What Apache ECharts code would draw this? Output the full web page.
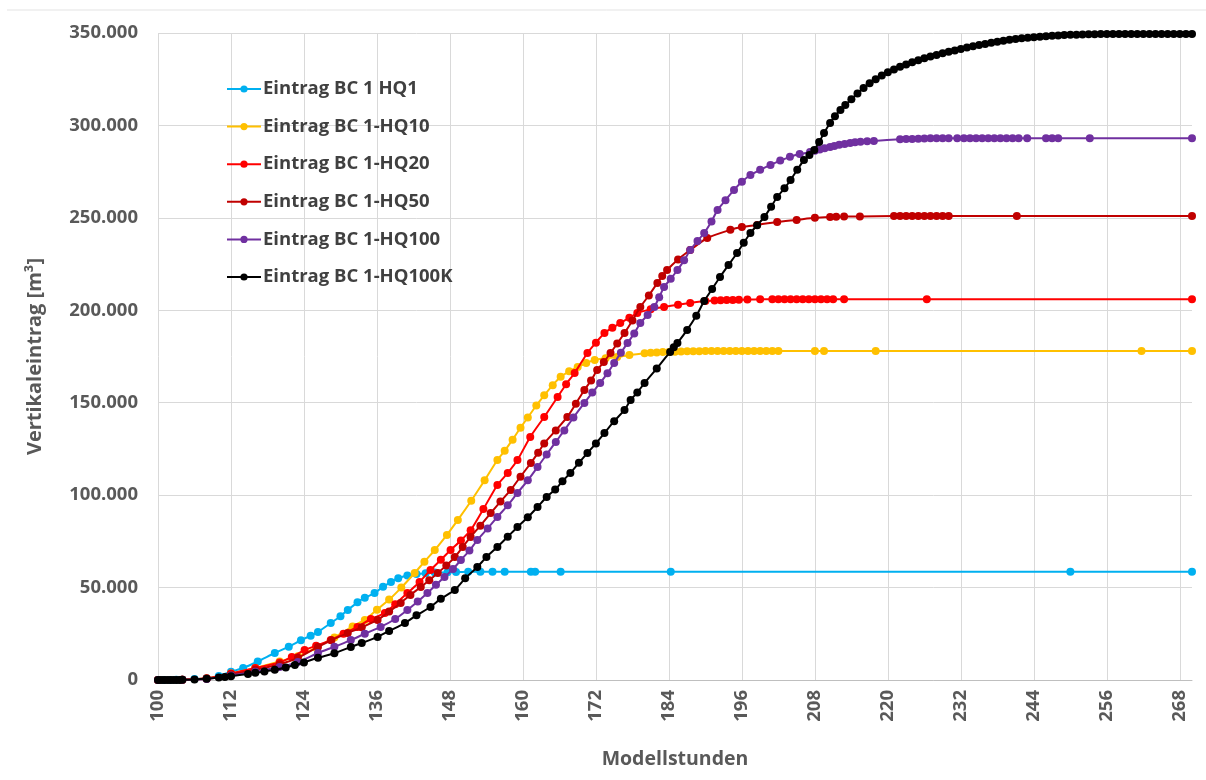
<!DOCTYPE html>
<html>
<head>
<meta charset="utf-8">
<script src="https://cdn.jsdelivr.net/npm/echarts@6/dist/echarts.min.js"></script>
<style>
html,body{margin:0;padding:0;background:#fff;}
#chart{width:1206px;height:780px;}
</style>
</head>
<body>
<div id="chart"></div>
<script>
// ---- Data: [Modellstunden, Vertikaleintrag m³] ----
const seriesNames = ["Eintrag BC 1 HQ1","Eintrag BC 1-HQ10","Eintrag BC 1-HQ20","Eintrag BC 1-HQ50","Eintrag BC 1-HQ100","Eintrag BC 1-HQ100K"];
const seriesColors = ["#00B0F0","#FFC000","#FF0000","#C00000","#7030A0","#000000"];
const xTicks = [100,112,124,136,148,160,172,184,196,208,220,232,244,256,268];

const hq1 = [[100,0],[101,0],[102,50],[103,100],[104,200],[106,500],[108,1000],[110,2200],[112,4500],[114,6500],[116.4,10000],[119.2,14600],[121.5,18000],[123.5,21500],[125.1,24000],[126.3,26000],[128.4,30800],[130,34500],[131.2,37900],[132.8,42000],[134,44500],[135.6,47000],[137,50500],[138.3,53000],[139.5,55000],[141,56500],[142.5,57300],[144,57800],[145.5,58100],[147.6,58300],[149,58400],[151,58500],[153,58500],[155,58500],[157,58500],[161.3,58500],[162,58500],[166.2,58500],[184.3,58500],[250,58500],[270,58500]];

const hq10 = [[100,0],[104,150],[108,800],[112,3500],[116,6500],[120,10000],[123,12800],[126,17500],[129,23000],[132,29000],[134,32500],[136,38000],[138,43500],[140,50000],[142.2,57900],[143.8,64000],[145.5,70300],[147.5,78500],[149.3,86600],[151.5,97000],[153.7,108000],[155.8,119000],[157,124000],[158.3,130000],[159.6,136500],[160.8,142000],[162.2,148500],[163.5,154000],[164.9,159500],[166.2,164000],[167.6,167000],[169,169300],[170.4,171500],[171.8,173100],[173.6,174000],[175.5,174700],[177.5,175800],[180,176800],[181,177000],[182,177200],[183,177400],[184,177500],[185,177600],[186,177700],[187,177800],[188,177900],[189,177900],[190,178000],[191,178000],[192,178000],[193,178000],[194,178000],[195,178000],[196,178000],[197,178000],[198,178000],[199,178000],[200,178000],[201,178000],[202,178000],[208,178000],[209.5,178000],[218,178000],[261.7,178000],[270,178000]];

const hq20 = [[100,0],[104,200],[108,900],[112,3500],[116,6500],[120,9500],[122,12500],[124.1,16200],[126,18500],[128.4,21600],[130.5,25000],[132.8,28700],[135,33000],[137.3,36200],[139,41000],[141,47000],[143,53000],[144.8,59500],[146.5,65000],[148.1,70300],[149.8,75500],[151.4,81000],[153.5,92500],[155.8,105500],[157.5,112000],[159.1,119000],[161.2,131500],[163.5,142300],[165.7,153100],[167.1,160000],[168.5,166100],[170.6,176900],[172,182500],[173.4,187700],[174.7,190500],[176,193100],[177.5,196000],[178.8,198500],[181,200500],[183.2,201800],[185.5,203000],[187.5,204000],[190,205000],[191.5,205300],[192.5,205400],[193.5,205500],[194.5,205600],[195.5,205700],[196.9,205800],[199,206000],[201,206000],[202,206000],[203,206000],[204,206000],[205,206000],[206,206000],[207,206000],[208,206000],[209,206000],[210,206000],[211,206000],[212.8,206000],[226.4,206000],[270,206000]];

const hq50 = [[100,0],[104,150],[108,700],[112,3000],[116,5500],[120,8500],[123,12000],[126.3,17900],[128.5,21500],[131.2,25400],[133.5,28500],[136.1,32500],[138,37000],[139.9,41700],[141.5,46000],[143.2,50300],[144.6,54000],[146,57900],[147.4,62000],[148.8,66500],[150.1,72000],[151.4,77400],[153,83500],[154.7,90300],[156.3,96500],[158,102800],[159.6,110000],[161.3,117400],[162.5,123000],[163.5,128000],[165.4,135000],[167.3,142300],[168.7,149500],[170.1,156900],[171.2,162000],[172.2,167700],[173.3,172000],[174.4,176900],[175.5,182000],[176.7,187700],[178,194500],[179.3,201800],[180.7,208000],[182.1,214800],[182.9,218500],[183.7,221800],[185.5,227500],[187.5,232600],[190.3,239100],[194.1,243500],[196,245000],[198.5,246200],[201.8,247800],[205,248900],[208,250000],[210.5,250500],[211.5,250600],[212.8,250700],[215.4,250800],[221,251000],[222,251000],[223,251000],[224,251000],[225,251000],[226,251000],[227,251000],[228,251000],[229,251000],[230,251000],[241.2,251000],[270,251000]];

const hq100 = [[100,0],[104,100],[108,600],[112,2500],[116,4500],[120,7000],[123,9700],[126.3,14600],[129,18000],[131.7,21600],[134,25000],[136.6,28700],[139,33000],[141,37900],[142.7,42500],[144.3,47100],[145.7,51500],[147.1,55700],[148.5,60000],[149.8,64900],[151.2,70000],[152.5,75700],[154.2,82000],[155.8,88200],[157.5,94500],[159.1,101200],[160.8,108000],[162.4,115200],[163.9,122000],[165.4,128800],[166.8,135000],[168.3,142000],[170.1,149900],[171.4,155500],[172.7,160700],[173.9,166000],[175,171500],[176.1,177000],[177.2,182300],[178.3,187500],[179.3,193100],[180.5,197500],[181.6,201800],[182.4,207000],[183.2,212600],[184.3,217000],[185.4,221800],[186.5,227000],[187.5,232600],[188.7,237500],[189.8,241800],[191,248000],[192,254300],[193.3,259500],[194.7,265100],[196,269500],[197.4,273200],[199,276000],[200.7,278600],[202.3,281000],[203.9,283000],[205.5,284500],[207.2,285600],[208,286300],[208.8,287000],[209.6,287700],[210.5,288300],[211.2,288900],[212,289500],[212.9,290000],[213.8,290500],[214.6,290900],[215.5,291200],[216.6,291400],[217.7,291600],[222,292500],[223,292600],[224,292700],[225,292800],[226,292900],[227,293000],[228,293000],[229,293000],[230,293000],[231.4,293000],[232.5,293000],[233.5,293000],[234.5,293000],[235.5,293000],[236.5,293000],[237.5,293000],[238.5,293000],[239.5,293000],[240.5,293000],[241.5,293000],[242.9,293000],[246,293000],[247,293000],[248,293000],[253.2,293000],[270,293000]];

const hq100k = [[100,0],[100.5,0],[101,0],[101.5,0],[102,0],[102.5,0],[103,0],[103.5,50],[104,100],[106,300],[108,700],[110,1300],[111,1600],[112,2000],[114.8,3300],[116,3900],[117.5,4600],[119.2,5500],[121,6800],[122.5,8100],[124,9500],[126.3,12000],[129,14500],[131.7,17900],[133.5,20000],[136.1,23300],[138,26500],[140.6,30800],[142.5,35000],[144.8,39500],[146.5,44000],[148.8,48700],[150.5,55000],[152.5,61100],[154,66500],[155.8,72000],[157.5,77500],[159.1,82800],[160.8,88000],[162.4,93600],[163.9,99000],[165.3,103000],[166.5,107500],[167.8,112000],[169.2,117500],[170.6,122800],[172,128000],[173.4,133600],[175,140000],[176.7,146100],[177.7,151500],[178.8,155500],[180,160700],[182,168500],[184.2,177500],[184.8,180000],[185.4,182300],[187,189400],[188.5,197000],[189.8,205000],[191.1,211500],[192.4,218000],[193.8,224500],[195.2,231000],[196.3,236500],[197.4,241800],[198.5,246000],[199.7,250500],[200.8,256000],[201.8,261300],[203,266000],[204,270500],[205.1,276000],[206.2,281300],[207.1,284000],[207.9,286700],[208.7,291000],[209.5,295900],[210.5,301300],[211.3,305000],[212.2,308400],[213,311000],[214,314200],[215,317300],[216,320200],[217,322800],[218,325000],[219,327000],[220,328800],[221,330300],[222,331700],[223,333000],[224,334200],[225,335300],[226,336300],[227,337300],[228,338100],[229,339000],[230,339800],[231,340600],[232,341400],[233,342100],[234,342800],[235,343500],[236,344100],[237,344700],[238,345300],[239,345800],[240,346300],[241,346700],[242,347100],[243,347400],[244,347700],[245,348000],[246,348300],[247,348500],[248,348700],[249,348900],[250,349000],[251,349100],[252,349200],[253,349300],[254,349300],[255,349400],[256,349400],[257,349400],[258,349400],[259,349500],[260,349500],[261,349500],[262,349500],[263,349500],[264,349500],[265,349500],[266,349500],[267,349500],[268,349500],[269,349500],[270,349500]];

const allData = [hq1, hq10, hq20, hq50, hq100, hq100k];

const FONT = '"Open Sans", "DejaVu Sans", sans-serif';
function dotThousands(v){ return String(v).replace(/\B(?=(\d{3})+(?!\d))/g, '.'); }

const chart = echarts.init(document.getElementById('chart'), null, {renderer:'canvas'});
const option = {
  backgroundColor: '#ffffff',
  animation: false,
  textStyle: {fontFamily: FONT},
  graphic: [{type:'line', shape:{x1:7,y1:10,x2:1206,y2:10}, style:{stroke:'#E3E3E3', lineWidth:1}}],
  grid: {left:158, right:14, top:33, bottom:100, containLabel:false},
  legend: {
    orient:'vertical', left:221, top:74,
    itemWidth:34, itemHeight:9, itemGap:17.6,
    data: seriesNames,
    textStyle:{fontFamily:FONT, fontSize:18.5, fontWeight:'bold', color:'#404040', lineHeight:20, padding:[0,0,0,-3]}
  },
  xAxis: {
    type:'value', min:100, max:270, interval:12,
    name:'Modellstunden', nameLocation:'middle', nameGap:69,
    nameTextStyle:{fontFamily:FONT, fontSize:19.5, fontWeight:'bold', color:'#595959'},
    axisLine:{show:true, lineStyle:{color:'#BFBFBF', width:1}},
    axisTick:{show:false},
    axisLabel:{rotate:90, margin:10, fontFamily:FONT, fontSize:18.5, fontWeight:'bold', color:'#595959', showMaxLabel:false,
      formatter: v => xTicks.indexOf(v) >= 0 ? String(v) : ''},
    splitLine:{show:true, showMaxLine:false, lineStyle:{color:'#D9D9D9', width:1}}
  },
  yAxis: {
    type:'value', min:0, max:350000, interval:50000,
    name:'Vertikaleintrag [m³]', nameLocation:'middle', nameGap:113,
    nameTextStyle:{fontFamily:FONT, fontSize:20, fontWeight:'bold', color:'#595959'},
    axisLine:{show:false}, axisTick:{show:false},
    axisLabel:{margin:20, fontFamily:FONT, fontSize:18.5, fontWeight:'bold', color:'#595959', formatter: v => dotThousands(v)},
    splitLine:{show:true, lineStyle:{color:'#D9D9D9', width:1}}
  },
  series: seriesNames.map((n,i) => ({
    name:n, type:'line', data: allData[i],
    color: seriesColors[i],
    symbol:'circle', symbolSize:8,
    smooth:0.2,
    lineStyle:{width:2, color:seriesColors[i]},
    itemStyle:{color:seriesColors[i]},
    z: 2+i
  }))
};
chart.setOption(option);
</script>
</body>
</html>
